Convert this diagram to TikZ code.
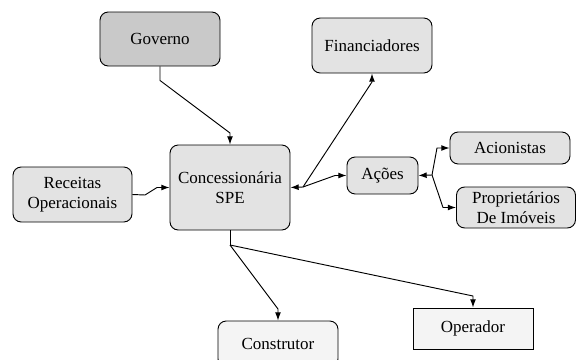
\documentclass[tikz,border=0pt]{standalone}
\usepackage{fontspec}
\setmainfont{Liberation Serif}
\usetikzlibrary{arrows.meta}

\definecolor{darkbox}{HTML}{C9C9C9}
\definecolor{midbox}{HTML}{E3E3E3}
\definecolor{lightbox}{HTML}{F4F4F4}

\tikzset{box/.style={main, rounded corners=7pt, fill=midbox}}
\tikzset{gbox/.style={box, fill=darkbox}}
\tikzset{wbox/.style={box, fill=lightbox}}
\tikzset{sbox/.style={main, fill=lightbox}}

\begin{document}
\begin{tikzpicture}[x=0.03cm, y=-0.03cm, line width=0.8pt, >={Latex[length=7pt,width=5pt]},
    main/.style={draw, align=center, inner sep=0pt, font=\rmfamily\fontsize{14.5}{17}\selectfont}]
    \useasboundingbox (0,0) rectangle (577,360);

    \node[gbox, minimum width=3.6cm, minimum height=1.62cm] (0) at (160,39) {Governo};
    \node[box, minimum width=3.6cm, minimum height=1.65cm] (1) at (372,45.5) {Financiadores};
    \node[box, minimum width=3.6cm, minimum height=2.55cm] (2) at (230,187.5) {Concessionária\\SPE};
    \node[box, minimum width=3.57cm, minimum height=1.65cm] (3) at (72.5,194.5) {Receitas\\Operacionais};
    \node[box, minimum width=2.13cm, minimum height=1.11cm] (4) at (382.5,175.5) {Ações};
    \node[box, minimum width=3.6cm, minimum height=0.96cm] (5) at (510,148) {Acionistas};
    \node[box, minimum width=3.57cm, minimum height=1.23cm] (6) at (516,207.5) {Proprietários\\De Imóveis};
    \node[wbox, minimum width=3.6cm, minimum height=1.38cm] (7) at (278,344) {Construtor};
    \node[sbox, minimum width=3.6cm, minimum height=1.23cm] (8) at (473,328.5) {Operador};

    \coordinate (j1) at (303,187);
    \coordinate (j2) at (432,175);
    \coordinate (j3) at (230,245);

    \draw[->] (0.south) -- ++(0,14) -- (230,133) -- (2.north);
    \draw[->] (3.east) -- (145,195) -- (157,187.5) -- (2.west);
    \draw[->] (j1) -- (2.east);
    \draw[->] (j1) -- (372,82) -- (1.south);
    \draw[->] (j1) -- (335,175.5) -- (4.west);
    \draw[->] (j2) -- (4.east);
    \draw[->] (j2) -- (437,148) -- (5.west);
    \draw[->] (j2) -- (443,207.5) -- (6.west);
    \draw (2.south) -- (j3);
    \draw[->] (j3) -- (278,309) -- (7.north);
    \draw[->] (j3) -- (473,296) -- (8.north);
\end{tikzpicture}
\end{document}
